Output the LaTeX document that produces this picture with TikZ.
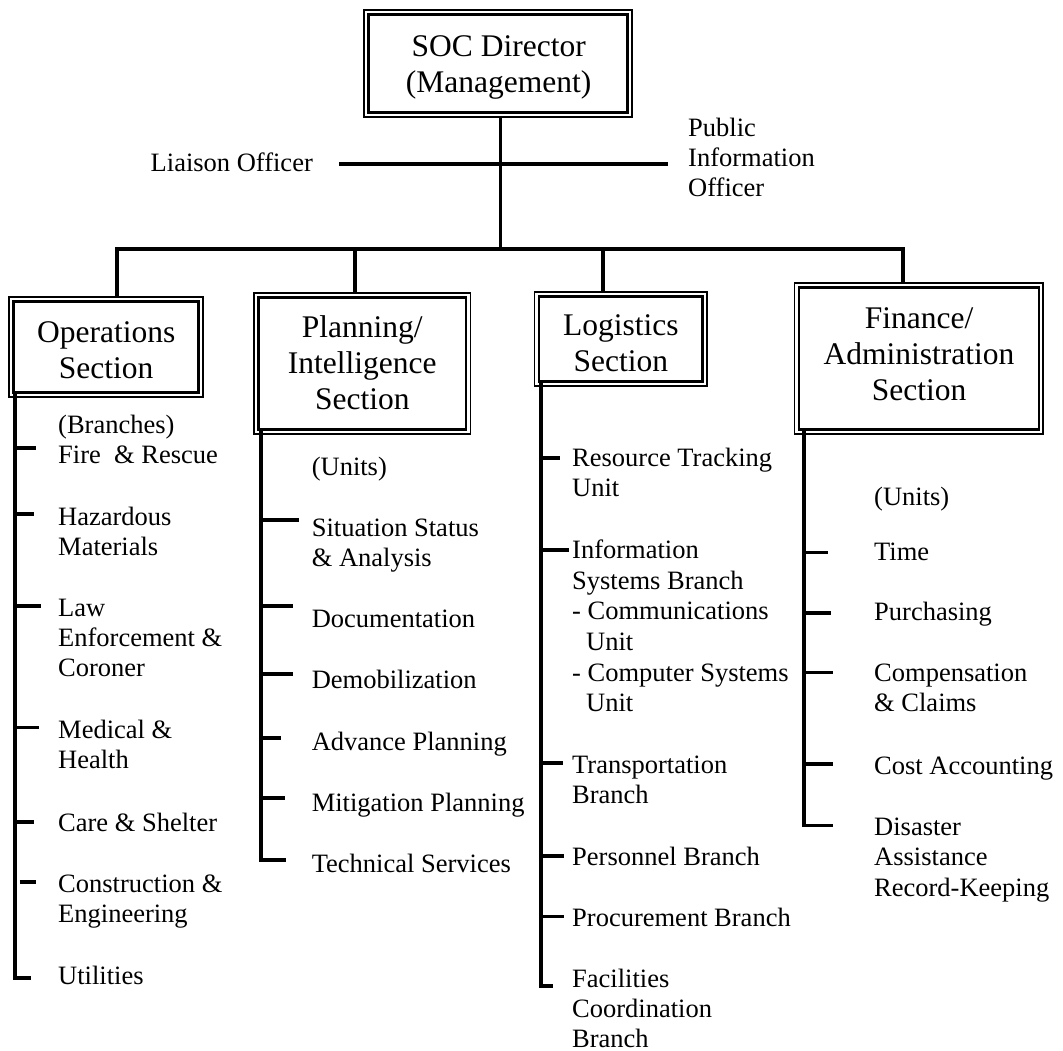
\documentclass[tikz,border=0pt]{standalone}
\usepackage{fontspec}
\setmainfont{Liberation Serif}
\newcommand{\mlL}[1]{\begin{tabular}[t]{@{}l@{}}#1\end{tabular}}
\newcommand{\mlC}[1]{\begin{tabular}[t]{@{}c@{}}#1\end{tabular}}
\begin{document}
\begin{tikzpicture}[x=1pt,y=-1pt,
  box/.style={draw, line width=2.6pt, rectangle, inner sep=0pt, outer sep=4.4pt},
  outerframe/.style={line width=1.8pt},
  boxtext/.style={anchor=base, inner sep=0pt, font=\fontsize{31.5}{36}\selectfont},
  itemtext/.style={anchor=base west, inner sep=0pt, font=\fontsize{26.5}{30}\selectfont},
  mainline/.style={line width=3.7pt},
  liaisonline/.style={line width=4.5pt},
  branchline/.style={line width=3.2pt},
  tickline/.style={line width=3.2pt}]
\useasboundingbox (0,0) rectangle (1063,1051);

% ---------- boxes ----------
\node[box, minimum width=258.9pt, minimum height=98.3pt] (top) at (497.75,63.65) {};
\node[box, minimum width=185pt, minimum height=90.9pt] (ops) at (106.2,346.75) {};
\node[box, minimum width=207.3pt, minimum height=132.2pt] (plan) at (362.35,363.4) {};
\node[box, minimum width=163.4pt, minimum height=85pt] (log) at (620.5,338.8) {};
\node[box, minimum width=240.1pt, minimum height=142.2pt] (fin) at (918.85,358.4) {};
\foreach \b in {top,ops,plan,log,fin}
  \draw[outerframe] (\b.north west) rectangle (\b.south east);

% ---------- box texts ----------
\node[boxtext] (topT) at (498.7,57) {\mlC{SOC Director\\(Management)}};
\node[boxtext] (opsT) at (106.2,342) {\mlC{Operations\\Section}};
\node[boxtext] (planT) at (362.3,337.3) {\mlC{Planning/\\Intelligence\\Section}};
\node[boxtext] (logT) at (620.8,335) {\mlC{Logistics\\Section}};
\node[boxtext] (finT) at (919,328.3) {\mlC{Finance/\\Administration\\Section}};

% ---------- top connectors ----------
\coordinate (hub) at (500.5,249);
\coordinate (b1) at (117,249);
\coordinate (b2) at (355.3,249);
\coordinate (b3) at (603.3,249);
\coordinate (b4) at (903,249);
\draw[mainline] (top.south -| hub) -- (hub);
\draw[mainline] (b1 |- ops.north) -- (b1) -- (b4) -- (b4 |- fin.north);
\draw[mainline] (b2) -- (b2 |- plan.north);
\draw[mainline] (b3) -- (b3 |- log.north);

% ---------- liaison / PIO ----------
\node[itemtext] (liaison) at (150.5,171.5) {Liaison Officer};
\node[itemtext] (pio) at (688,136.7) {\mlL{Public\\Information\\Officer}};
\coordinate (lA) at (339,164);
\coordinate (lB) at (668,164);
\draw[liaisonline] (lA) -- (lB);

% ---------- branch line origins ----------
\coordinate (opsL) at ([shift={(5.7,-4.4)}]ops.south west);
\coordinate (planL) at ([shift={(6.7,-4.4)}]plan.south west);
\coordinate (logL) at ([shift={(6.6,-4.4)}]log.south west);
\coordinate (finL) at ([shift={(9.6,-4.4)}]fin.south west);

% ---------- Operations ----------
\coordinate (o1) at (36,448);
\coordinate (o2) at (34,514);
\coordinate (o3) at (40.6,606);
\coordinate (o4) at (38.6,727.7);
\coordinate (o5) at (34,822);
\coordinate (o6) at (36,882);
\coordinate (o7) at (31,978);
\draw[branchline] (opsL) -- (o7 -| opsL) -- (o7);
\foreach \t in {o1,o2,o3,o4,o5}
  \draw[tickline] (\t -| opsL) -- (\t);
\draw[tickline] ([xshift=4.5pt]o6 -| opsL) -- (o6);
\node[itemtext] (opsA) at (58,433.5) {\mlL{(Branches)\\Fire\ \ \& Rescue}};
\node[itemtext] (opsB) at (58,525) {\mlL{Hazardous\\Materials}};
\node[itemtext] (opsC) at (58,616.7) {\mlL{Law\\Enforcement \&\\Coroner}};
\node[itemtext] (opsD) at (58,738.3) {\mlL{Medical \&\\Health}};
\node[itemtext] (opsE) at (58,831) {Care \& Shelter};
\node[itemtext] (opsF) at (58,892.7) {\mlL{Construction \&\\Engineering}};
\node[itemtext] (opsG) at (58,984) {Utilities};

% ---------- Planning ----------
\coordinate (p1) at (299,520);
\coordinate (p2) at (292.7,606);
\coordinate (p3) at (292.7,674);
\coordinate (p4) at (280.6,738);
\coordinate (p5) at (285,798);
\coordinate (p6) at (286,860);
\draw[branchline] (planL) -- (p6 -| planL) -- (p6);
\foreach \t in {p1,p2,p3,p4,p5}
  \draw[tickline] (\t -| planL) -- (\t);
\node[itemtext] (planU) at (311.6,475) {(Units)};
\node[itemtext] (planA) at (311.6,536) {\mlL{Situation Status\\\& Analysis}};
\node[itemtext] (planB) at (311.6,627.7) {Documentation};
\node[itemtext] (planC) at (311.6,688.3) {Demobilization};
\node[itemtext] (planD) at (311.6,750) {Advance Planning};
\node[itemtext] (planE) at (311.6,811.7) {Mitigation Planning};
\node[itemtext] (planF) at (311.6,872.7) {Technical Services};

% ---------- Logistics ----------
\coordinate (g1) at (560,458);
\coordinate (g2) at (568.5,550);
\coordinate (g3) at (563,763);
\coordinate (g4) at (564,856);
\coordinate (g5) at (564,916.7);
\coordinate (g6) at (553,986);
\draw[branchline] (logL) -- (g6 -| logL) -- (g6);
\foreach \t in {g1,g2,g3,g4,g5}
  \draw[tickline] (\t -| logL) -- (\t);
\node[itemtext] (logA) at (572,466.7) {\mlL{Resource Tracking\\Unit}};
\node[itemtext, font=\fontsize{26.5}{30.7}\selectfont] (logB) at (572,558.3)
  {\mlL{Information\\Systems Branch\\- Communications\\\hspace*{14pt}Unit\\- Computer Systems\\\hspace*{14pt}Unit}};
\node[itemtext] (logC) at (572,773.3) {\mlL{Transportation\\Branch}};
\node[itemtext] (logD) at (572,865) {Personnel Branch};
\node[itemtext] (logE) at (572,926.7) {Procurement Branch};
\node[itemtext] (logF) at (572,987.3) {\mlL{Facilities\\Coordination\\Branch}};

% ---------- Finance ----------
\coordinate (f1) at (828,552.7);
\coordinate (f2) at (830.6,613);
\coordinate (f3) at (833,672.7);
\coordinate (f4) at (833,764);
\coordinate (f5) at (833,825.7);
\draw[branchline] (finL) -- (f5 -| finL) -- (f5);
\foreach \t in {f1,f2,f3,f4}
  \draw[tickline] (\t -| finL) -- (\t);
\node[itemtext] (finU) at (874,505.5) {(Units)};
\node[itemtext] (finA) at (874,560.2) {Time};
\node[itemtext] (finB) at (874,620.3) {Purchasing};
\node[itemtext] (finC) at (874,681.7) {\mlL{Compensation\\\& Claims}};
\node[itemtext] (finD) at (874,774) {Cost Accounting};
\node[itemtext, font=\fontsize{26.5}{30.8}\selectfont] (finE) at (874,835) {\mlL{Disaster\\Assistance\\Record-Keeping}};
\end{tikzpicture}
\end{document}
